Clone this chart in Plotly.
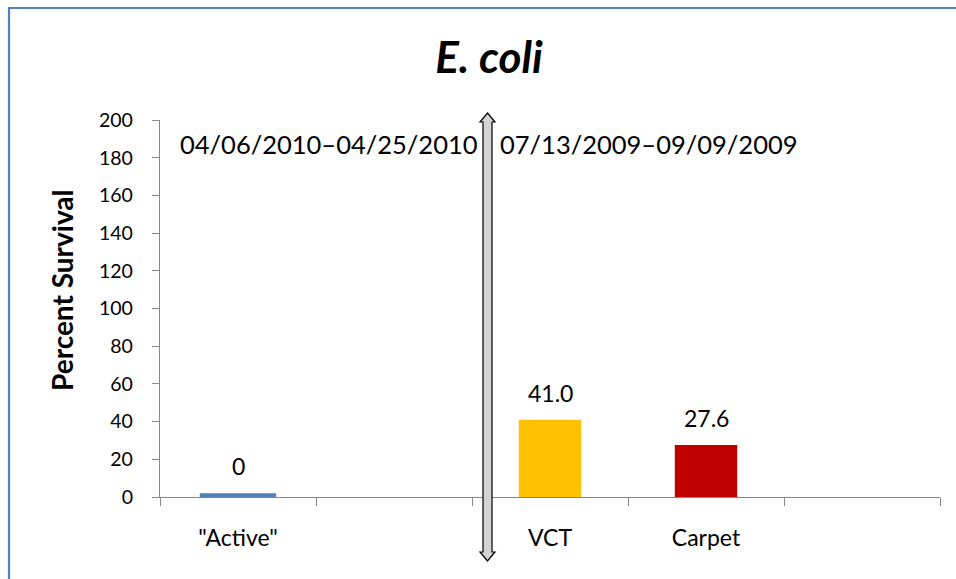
import plotly.graph_objects as go

# ---- data ----
categories = ['"Active"', " ", "VCT", "Carpet", "  "]
values = [2.0, None, 41.0, 27.6, None]
value_labels = ["0", "", "41.0", "27.6", ""]
bar_colors = ["#4F81BD", "#FFFFFF", "#FFC000", "#C00000", "#FFFFFF"]
period_labels = ["04/06/2010\u201304/25/2010", "07/13/2009\u201309/09/2009"]
y_ticks = list(range(0, 201, 20))

W, H = 956, 579
L, R, T, B = 160, 16, 120, 82
PW, PH = W - L - R, H - T - B

def px_x(x):
    return (x - L) / PW

def px_y(y):
    return (H - B - y) / PH

FONT = "Lato, 'Open Sans', sans-serif"

fig = go.Figure()
fig.add_trace(go.Bar(
    x=categories, y=values,
    marker=dict(color=bar_colors, line=dict(width=0)),
    width=[0.49, 0.4, 0.4, 0.4, 0.4],
    hoverinfo="x+y",
    showlegend=False,
))

annotations = []
for c, v, t in zip(categories, values, value_labels):
    if v is None or t == "":
        continue
    annotations.append(dict(
        x=c, y=v, xref="x", yref="y", text=t, showarrow=False,
        yanchor="middle", yshift=27,
        font=dict(family=FONT, size=23, color="black"),
    ))

# period labels
for cx, t in zip([329, 649], period_labels):
    annotations.append(dict(
        x=px_x(cx), y=px_y(144), xref="paper", yref="paper", text=t,
        showarrow=False, xanchor="center", yanchor="middle",
        font=dict(family=FONT, size=25.5, color="black"),
    ))

# y axis title
annotations.append(dict(
    x=px_x(62), y=px_y(290), xref="paper", yref="paper",
    text="<b>Percent Survival</b>", showarrow=False, textangle=-90,
    xanchor="center", yanchor="middle",
    font=dict(family=FONT, size=28, color="black"),
))

shapes = []
# double arrow separator
ax = 487.5
sw, hw, hl = 4.5, 7.5, 9
top, bot = 113, 561
pts = [
    (ax, top), (ax + hw, top + hl), (ax + sw, top + hl), (ax + sw, bot - hl),
    (ax + hw, bot - hl), (ax, bot), (ax - hw, bot - hl), (ax - sw, bot - hl),
    (ax - sw, top + hl), (ax - hw, top + hl),
]
path = "M " + " L ".join(f"{px_x(x):.5f},{px_y(y):.5f}" for x, y in pts) + " Z"
shapes.append(dict(type="path", path=path, xref="paper", yref="paper",
                   fillcolor="#D4D4D4", line=dict(color="black", width=1.2), layer="above"))
# chart area border
shapes.append(dict(type="rect", xref="paper", yref="paper",
                   x0=px_x(9), y0=px_y(H + 20), x1=px_x(W + 20), y1=px_y(8),
                   line=dict(color="#4F81BD", width=2.2), fillcolor="rgba(0,0,0,0)",
                   layer="above"))

fig.update_layout(
    width=W, height=H,
    margin=dict(l=L, r=R, t=T, b=B, pad=0),
    paper_bgcolor="white", plot_bgcolor="white",
    font=dict(family=FONT, color="black"),
    title=dict(text="<b><i>E. coli</i></b>", x=489 / W, xanchor="center",
               y=1 - 58 / H, yanchor="middle", xref="container", yref="container",
               font=dict(family=FONT, size=44, color="black")),
    annotations=annotations,
    shapes=shapes,
    bargap=0.5,
)
fig.update_xaxes(
    type="category", categoryorder="array", categoryarray=categories,
    range=[-0.5, len(categories) - 0.5],
    showline=True, linecolor="#868686", linewidth=1.3,
    ticks="outside", tickson="boundaries", ticklen=8, tickcolor="#868686", tickwidth=1.3,
    showgrid=False, zeroline=False,
    tickfont=dict(family=FONT, size=23, color="black"),
    ticklabelstandoff=20,
)
fig.update_yaxes(
    range=[0, 200], tickvals=y_ticks, ticktext=[str(v) for v in y_ticks],
    showline=True, linecolor="#868686", linewidth=1.3,
    ticks="outside", ticklen=7, tickcolor="#868686", tickwidth=1.3,
    showgrid=False, zeroline=False,
    tickfont=dict(family=FONT, size=19.5, color="black"),
    ticklabelstandoff=15,
)

fig.write_html(
    "out.html",
    config={"displayModeBar": False},
    post_script="document.body.style.margin='0';document.body.style.overflow='hidden';",
)
